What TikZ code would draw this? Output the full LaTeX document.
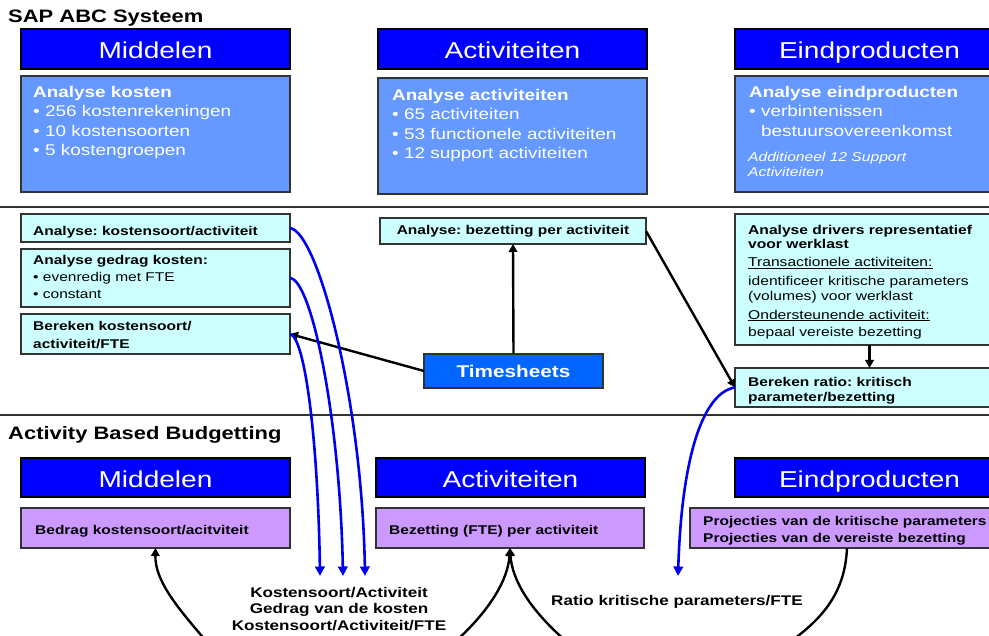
\documentclass[tikz,border=0pt]{standalone}
\usepackage{fontspec}
\setmainfont{Liberation Sans}[FakeStretch=1.22]
\usetikzlibrary{arrows.meta}
\definecolor{hdrblue}{HTML}{0000FF}
\definecolor{bodyblue}{HTML}{6699FF}
\definecolor{cyanbox}{HTML}{CCFFFF}
\definecolor{purplebox}{HTML}{CC99FF}
\definecolor{tsblue}{HTML}{0066FF}
\definecolor{edge}{HTML}{333333}
\definecolor{curveblue}{HTML}{0000EE}
\frenchspacing
\begin{document}
\begin{tikzpicture}[x=1pt,y=-1pt,
 box/.style={draw=edge, line width=1.8pt, anchor=north west, inner sep=0pt, outer sep=0pt},
 hdr/.style={box, fill=hdrblue, draw=black, minimum height=40pt, minimum width=269pt, text=white, text height=21pt, text depth=1pt, font=\fontsize{23}{26}\selectfont},
 bodybox/.style={box, fill=bodyblue, minimum width=269pt, minimum height=116pt},
 cybox/.style={box, fill=cyanbox, minimum width=269pt},
 pubox/.style={box, fill=purplebox, minimum height=40pt},
 txt/.style={anchor=north west, inner sep=0pt, align=left},
 btxt/.style={txt, text=white, font=\fontsize{15.5}{19.5}\selectfont},
 stxt/.style={txt, font=\fontsize{12.7}{17}\selectfont},
 sbold/.style={txt, font=\bfseries\fontsize{12.7}{#1}\selectfont},
 ttl/.style={txt, font=\bfseries\fontsize{18}{20}\selectfont},
 blk/.style={draw=black, line width=2.4pt, -{Triangle[length=8pt,width=8.5pt]}},
 blu/.style={draw=curveblue, line width=2.6pt, -{Triangle[length=9.5pt,width=9.5pt]}},
 sepline/.style={draw=edge, line width=2.6pt},
]
\clip (0,0) rectangle (989,636);
% top section
\node[ttl] (sap) at (8,10) {SAP ABC Systeem};
\node[hdr] (hm1) at (21,29) {Middelen};
\node[hdr] (ha1) at (378,29) {Activiteiten};
\node[hdr] (he1) at (735,29) {Eindproducten};
\node[bodybox] (bm1) at (21,76) {};
\node[bodybox] (ba1) at (378,78) {};
\node[bodybox] (be1) at (735,76) {};
\node[btxt] (tm1) at (33,86) {\textbf{Analyse kosten}\\• 256 kostenrekeningen\\• 10 kostensoorten\\• 5 kostengroepen};
\node[btxt] (ta1) at (392,89) {\textbf{Analyse activiteiten}\\• 65 activiteiten\\• 53 functionele activiteiten\\• 12 support activiteiten};
\node[btxt] (te1) at (749,86) {\textbf{Analyse eindproducten}\\• verbintenissen\\\phantom{• }bestuursovereenkomst};
\node[txt, text=white, font=\itshape\fontsize{12.8}{15}\selectfont] (te2) at (748,152.5) {Additioneel 12 Support\\Activiteiten};
% separators
\draw[sepline] (0,207) -- (989,207);
\draw[sepline] (0,415) -- (989,415);
% middle section
\node[cybox, minimum height=28pt] (cy1) at (21,214) {};
\node[cybox, minimum height=58pt] (cy2) at (21,249) {};
\node[cybox, minimum height=40pt] (cy3) at (21,314) {};
\node[sbold=15] (t1) at (33,226.5) {Analyse: kostensoort/activiteit};
\node[stxt] (t2) at (33,255) {\textbf{Analyse gedrag kosten:}\\• evenredig met FTE\\• constant};
\node[sbold=18.5] (t3) at (33,321) {Bereken kostensoort/\\activiteit/FTE};
\node[cybox, minimum width=266pt, minimum height=26pt, font=\bfseries\fontsize{12.7}{15}\selectfont] (bez) at (380,218) {Analyse: bezetting per activiteit};
\node[box, fill=tsblue, minimum width=179pt, minimum height=34pt, text=white, font=\bfseries\fontsize{17}{20}\selectfont] (ts) at (424,354) {Timesheets};
\node[cybox, minimum height=131pt] (drv) at (735,214) {};
\node[txt, font=\fontsize{12.8}{14}\selectfont] (tdrv) at (748,225) {\textbf{Analyse drivers representatief}\\\textbf{voor werklast}\\[4.3pt]\underline{Transactionele activiteiten:}\\[4.3pt]identificeer kritische parameters\\[1.7pt](volumes) voor werklast\\[4.3pt]\underline{Ondersteunende activiteit:}\\[3.7pt]bepaal vereiste bezetting};
\node[cybox, minimum height=39pt] (ratio) at (735,368) {};
\node[sbold=15] (tratio) at (748,377.5) {Bereken ratio: kritisch\\parameter/bezetting};
% bottom section
\node[ttl] (abb) at (8,426) {Activity Based Budgetting};
\node[hdr, minimum height=39pt] (hm2) at (21,458) {Middelen};
\node[hdr, minimum height=39pt] (ha2) at (376,458) {Activiteiten};
\node[hdr, minimum height=39pt] (he2) at (735,458) {Eindproducten};
\node[pubox, minimum width=269pt] (bed) at (21,508) {};
\node[pubox, minimum width=268pt] (bzt) at (376,508) {};
\node[pubox, minimum width=314pt] (proj) at (690,508) {};
\node[sbold=15] (tbed) at (35,525) {Bedrag kostensoort/acitviteit};
\node[sbold=15] (tbzt) at (389,525) {Bezetting (FTE) per activiteit};
\node[sbold=16.7] (tproj) at (703,516.5) {Projecties van de kritische parameters\\Projecties van de vereiste bezetting};
\node[anchor=north, inner sep=0pt, align=center, font=\bfseries\fontsize{14}{16.7}\selectfont] (lk) at (339,586.7) {Kostensoort/Activiteit\\Gedrag van de kosten\\Kostensoort/Activiteit/FTE};
\node[txt, font=\bfseries\fontsize{14}{16}\selectfont] (lr) at (551,595) {Ratio kritische parameters/FTE};
% free ends
\coordinate (k1) at (365,576);
\coordinate (k2) at (343,576);
\coordinate (k3) at (320,576);
\coordinate (kr) at (678,576);
\coordinate (b1) at (207,642);
\coordinate (b2) at (455,642);
\coordinate (b3) at (567,642);
\coordinate (b4) at (790,642);
% connectors
\draw[blk] (ts.north) -- (bez.south);
\draw[blk] (ts.west) -- (cy3.east);
\draw[blk] (bez.east) -- (ratio.west);
\draw[blk] (drv.south) -- (ratio.north);
\draw[blu] (cy1.east) .. controls (318,232) and (362,400) .. (k1);
\draw[blu] (cy2.east) .. controls (312,280) and (340,420) .. (k2);
\draw[blu] (cy3.east) .. controls (305,337) and (318,440) .. (k3);
\draw[blu] (ratio.west) .. controls (705,392) and (682,450) .. (kr);
\draw[blk] (b1) .. controls (175,605) and (155,580) .. (bed.south);
\draw[blk] (b2) .. controls (490,610) and (508,580) .. (bzt.south);
\draw[blk] (b3) .. controls (530,610) and (512,580) .. (bzt.south);
\draw[draw=black, line width=2.4pt] (proj.south) .. controls (845,595) and (820,620) .. (b4);
\end{tikzpicture}
\end{document}
